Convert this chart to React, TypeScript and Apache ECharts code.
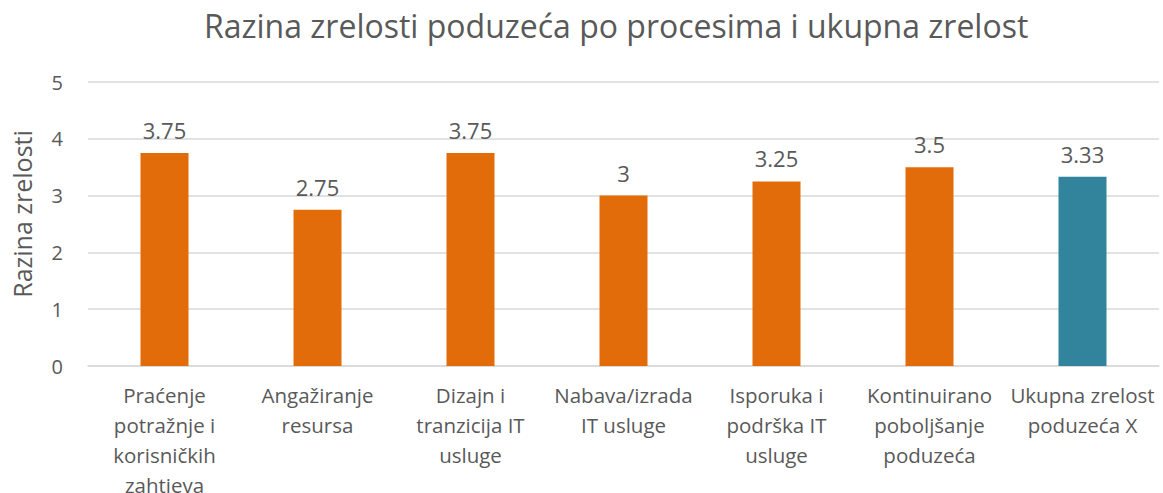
import React, { useEffect, useRef } from "react";
import * as echarts from "echarts";

const categories = [
  "Praćenje\npotražnje i\nkorisničkih\nzahtjeva",
  "Angažiranje\nresursa",
  "Dizajn i\ntranzicija IT\nusluge",
  "Nabava/izrada\nIT usluge",
  "Isporuka i\npodrška IT\nusluge",
  "Kontinuirano\npoboljšanje\npoduzeća",
  "Ukupna zrelost\npoduzeća X",
];
const values = [3.75, 2.75, 3.75, 3, 3.25, 3.5, 3.33];
const barColors = ["#E36C0A", "#E36C0A", "#E36C0A", "#E36C0A", "#E36C0A", "#E36C0A", "#31849B"];
const yTicks = [0, 1, 2, 3, 4, 5];

const FONT = "'Open Sans', 'Noto Sans', sans-serif";
const TEXT = "#595959";

export default function App() {
  const ref = useRef<HTMLDivElement>(null);
  useEffect(() => {
    if (!ref.current) return;
    const chart = echarts.init(ref.current, null, { renderer: "svg" });
    chart.setOption({
      animation: false,
      backgroundColor: "#ffffff",
      title: {
        text: "Razina zrelosti poduzeća po procesima i ukupna zrelost",
        left: 199,
        top: 4,
        textStyle: { fontFamily: FONT, fontSize: 32, fontWeight: "normal", color: TEXT },
      },
      grid: {
        left: 88,
        right: 4,
        top: 82,
        bottom: 127,
        containLabel: false,
        outerBoundsMode: "none",
      },
      xAxis: {
        type: "category",
        data: categories,
        axisLine: { lineStyle: { color: "#D9D9D9", width: 1.5 } },
        axisTick: { show: false },
        axisLabel: {
          interval: 0,
          fontFamily: FONT,
          fontSize: 20.5,
          color: TEXT,
          lineHeight: 30,
          margin: 14,
        },
      },
      yAxis: {
        type: "value",
        min: yTicks[0],
        max: yTicks[yTicks.length - 1],
        interval: 1,
        name: "Razina zrelosti",
        nameLocation: "middle",
        nameGap: 54,
        nameTextStyle: { fontFamily: FONT, fontSize: 25, color: TEXT, padding: [0, 0, 0, 20] },
        axisLine: { show: false },
        axisTick: { show: false },
        axisLabel: { fontFamily: FONT, fontSize: 20, color: TEXT, margin: 25 },
        splitLine: { lineStyle: { color: "#D9D9D9", width: 1.5 } },
      },
      series: [
        {
          type: "bar",
          data: values.map((v, i) => ({ value: v, itemStyle: { color: barColors[i] } })),
          barWidth: 48,
          label: {
            show: true,
            position: "top",
            distance: 12,
            fontFamily: FONT,
            fontSize: 22,
            color: TEXT,
          },
        },
      ],
    });
    return () => chart.dispose();
  }, []);
  return (
    <div
      ref={ref}
      style={{ position: "fixed", left: 0, top: 0, width: 1163, height: 493 }}
    />
  );
}
